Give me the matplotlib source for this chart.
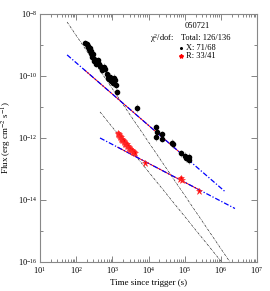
import numpy as np
import matplotlib
matplotlib.use("Agg")
import matplotlib.pyplot as plt
from matplotlib.ticker import LogLocator, NullFormatter, FixedLocator

plt.rcParams['font.family'] = ['Liberation Serif', 'DejaVu Serif']
plt.rcParams['mathtext.fontset'] = 'stix'

# X-ray points (log10 t, log10 flux)
x_logt = [2.24, 2.30, 2.32, 2.34, 2.35, 2.37, 2.38, 2.40, 2.41, 2.43, 2.45, 2.46,
          2.48, 2.50, 2.52, 2.55, 2.58, 2.60, 2.63, 2.66, 2.70, 2.72, 2.75, 2.78,
          2.80, 2.84, 2.87, 2.90, 2.93, 2.96, 2.99, 3.02, 3.05, 3.08, 3.10, 3.13,
          3.68, 4.22, 4.23, 4.21, 4.37, 4.38, 4.64, 4.67, 4.91, 5.02, 5.04, 5.11, 5.13]
x_logf = [-8.94, -8.98, -9.05, -9.02, -9.12, -9.10, -9.20, -9.25, -9.18, -9.32, -9.40, -9.30,
          -9.45, -9.52, -9.48, -9.60, -9.55, -9.50, -9.62, -9.68, -9.72, -9.80, -9.75, -9.70,
          -9.78, -9.95, -10.05, -10.10, -10.02, -10.15, -10.10, -10.22, -10.05, -10.12, -10.30, -10.52,
          -11.03, -11.65, -11.80, -11.96, -11.88, -12.02, -12.15, -12.19, -12.50, -12.58, -12.66, -12.72, -12.60]

# R-band points
r_logt = [3.15, 3.16, 3.18, 3.19, 3.21, 3.22, 3.24, 3.25, 3.27, 3.28, 3.30, 3.31,
          3.33, 3.35, 3.36, 3.38, 3.40, 3.41, 3.43, 3.45, 3.47, 3.48, 3.50, 3.52,
          3.54, 3.56, 3.58, 3.60, 3.62, 3.90, 4.88, 4.92, 4.90, 5.39]
r_logf = [-11.84, -11.88, -11.86, -11.92, -11.93, -11.98, -11.97, -12.02, -12.03, -12.06, -12.08, -12.12,
          -12.11, -12.16, -12.18, -12.20, -12.21, -12.26, -12.25, -12.30, -12.31, -12.35, -12.34, -12.38,
          -12.40, -12.42, -12.44, -12.46, -12.48, -12.80, -13.33, -13.36, -13.30, -13.72]

# model components: (log t start, log t end, log f at start, slope)
steep_x = [1.75, 6.25, -8.26, -1.72]
steep_r = [2.66, 6.03, -11.16, -1.44]
pl_x = [1.75, 6.11, -9.32, -1.01]
pl_r = [2.66, 6.39, -12.0, -0.61]
fit_range_x = [2.24, 5.13]
fit_range_r = [3.15, 5.39]


def comp(p, lo=None, hi=None):
    a = p[0] if lo is None else lo
    b = p[1] if hi is None else hi
    lt = np.linspace(a, b, 50)
    return 10 ** lt, 10 ** (p[2] + p[3] * (lt - p[0]))


fig = plt.figure(figsize=(2.70, 2.91), dpi=100)
ax = fig.add_axes([0.148, 0.0997, 0.804, 0.8523])

dd = (0, (4, 1.5, 1, 1.5))
for p in [steep_x, steep_r]:
    t, f = comp(p)
    ax.plot(t, f, color='#222222', lw=0.45, linestyle=dd)

t, f = comp(pl_x, *fit_range_x)
ax.plot(t, f, color='red', lw=0.7)
t, f = comp(pl_r, *fit_range_r)
ax.plot(t, f, color='red', lw=0.7)
for p in [pl_x, pl_r]:
    t, f = comp(p)
    ax.plot(t, f, color='blue', lw=0.9, linestyle=dd)

xt = 10 ** np.array(x_logt)
xf = 10 ** np.array(x_logf)
ax.errorbar(xt, xf, yerr=[xf * 0.25, xf * 0.3], fmt='o', color='black', ms=3.0,
            elinewidth=0.4, ecolor='#777777', capsize=0, zorder=4)

rt = 10 ** np.array(r_logt)
rf = 10 ** np.array(r_logf)
ax.plot(rt, rf, linestyle='none', marker='*', color='red', ms=5, mec='#ff3030', mew=0.4, zorder=5)

ax.set_xscale('log')
ax.set_yscale('log')
ax.set_xlim(1e1, 1e7)
ax.set_ylim(1e-16, 1e-8)

ax.xaxis.set_major_locator(FixedLocator([10.0 ** k for k in range(1, 8)]))
ax.xaxis.set_minor_locator(LogLocator(base=10, subs=np.arange(2, 10), numticks=20))
ax.xaxis.set_minor_formatter(NullFormatter())
ax.yaxis.set_major_locator(FixedLocator([10.0 ** k for k in range(-16, -7, 2)]))
ax.yaxis.set_minor_locator(FixedLocator([10.0 ** k for k in range(-15, -8, 2)]))
ax.yaxis.set_minor_formatter(NullFormatter())

ax.tick_params(which='both', direction='in', top=True, right=True, labelsize=6,
               color='#555555', width=0.5, pad=2)
ax.tick_params(which='major', length=4)
ax.tick_params(which='minor', length=2)
for s in ax.spines.values():
    s.set_color('#888888')
    s.set_linewidth(0.8)

ax.set_xlabel('Time since trigger (s)', fontsize=6.5, labelpad=2)
ax.set_ylabel('Flux (erg cm$^{-2}$ s$^{-1}$)', fontsize=6.5, labelpad=3)

ax.text(0.723, 0.952, '050721', transform=ax.transAxes, fontsize=6, ha='center', va='center')
ax.text(0.505, 0.903, r'$\mathregular{\chi^2}$/dof:', transform=ax.transAxes, fontsize=6, ha='left', va='center')
ax.text(0.648, 0.903, 'Total: 126/136', transform=ax.transAxes, fontsize=6, ha='left', va='center')
ax.plot([0.652], [0.863], 'o', color='black', ms=1.2, transform=ax.transAxes)
ax.text(0.673, 0.863, 'X: 71/68', transform=ax.transAxes, fontsize=6, ha='left', va='center')
ax.plot([0.652], [0.831], '*', color='red', ms=3, transform=ax.transAxes)
ax.text(0.673, 0.831, 'R: 33/41', transform=ax.transAxes, fontsize=6, ha='left', va='center')

fig.savefig('out.png', dpi=100)
